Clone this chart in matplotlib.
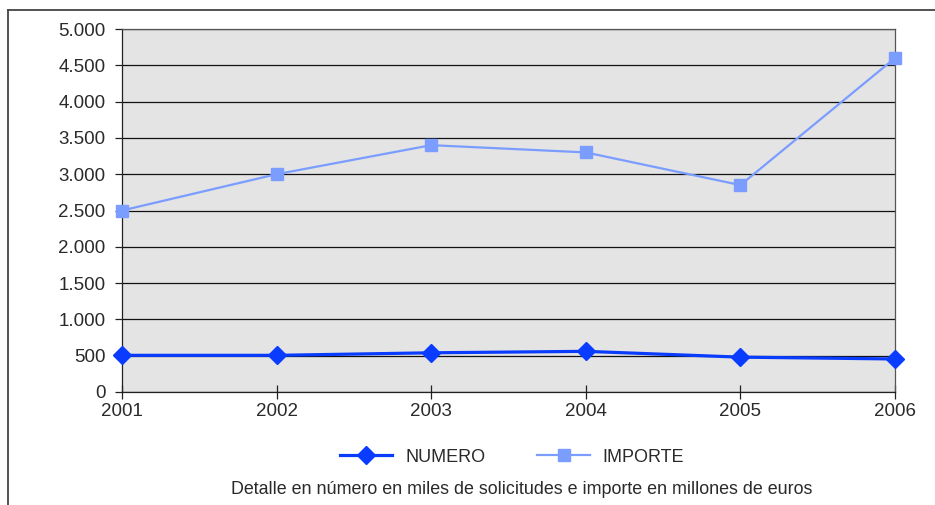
import matplotlib
matplotlib.use('Agg')
import matplotlib.pyplot as plt
from matplotlib.lines import Line2D
from matplotlib.ticker import FuncFormatter

plt.rcParams['font.family'] = ['Liberation Sans', 'DejaVu Sans']

years = ['2001', '2002', '2003', '2004', '2005', '2006']
numero = [505, 505, 540, 560, 480, 455]
importe = [2500, 3000, 3400, 3300, 2850, 4600]

fig = plt.figure(figsize=(9.35, 5.05), dpi=100)
ax = fig.add_axes([122/935, 1 - 392/505, (895 - 122)/935, (392 - 29)/505])
ax.set_facecolor('#e4e4e4')

x = list(range(len(years)))
ax.plot(x, numero, color='#0a3cff', lw=2.3, marker='D', markersize=9,
        label='NUMERO', clip_on=False, zorder=4)
ax.plot(x, importe, color='#7a9dff', lw=1.6, marker='s', markersize=9,
        label='IMPORTE', clip_on=False, zorder=3)

ax.set_xlim(0, len(years) - 1)
ax.set_ylim(0, 5000)
ax.set_xticks(x)
ax.set_xticklabels(years)
ax.set_yticks(range(0, 5001, 500))
ax.yaxis.set_major_formatter(FuncFormatter(lambda v, p: f'{int(v):,}'.replace(',', '.')))
ax.yaxis.grid(True, color='#111111', lw=0.9)
ax.set_axisbelow(True)

ax.tick_params(axis='y', direction='out', length=5, width=0.9, labelsize=13.5, pad=7,
               color='#222222', labelcolor='#2a2a2a')
ax.tick_params(axis='x', direction='inout', length=10, width=0.9, labelsize=13.5, pad=3,
               color='#222222', labelcolor='#2a2a2a')
for s in ['left', 'bottom']:
    ax.spines[s].set_color('#222222')
    ax.spines[s].set_linewidth(0.9)
for s in ['top', 'right']:
    ax.spines[s].set_color('#555555')
    ax.spines[s].set_linewidth(0.9)

leg = fig.legend(loc='center', bbox_to_anchor=(512/935, 1 - 457/505), ncol=2,
                 frameon=False, fontsize=13, handlelength=2.9, columnspacing=2.9,
                 handletextpad=0.7, labelcolor='#2a2a2a')

fig.text(522/935, 1 - 489/505, 'Detalle en número en miles de solicitudes e importe en millones de euros',
         ha='center', va='center', fontsize=12.9, color='#2a2a2a')

# outer frame
fig.add_artist(Line2D([8/935, 8/935], [0, 1 - 10/505], transform=fig.transFigure, color='#444444', lw=1.3))
fig.add_artist(Line2D([8/935, 1], [1 - 10/505, 1 - 10/505], transform=fig.transFigure, color='#444444', lw=1.3))

fig.savefig('out.png', dpi=100)
